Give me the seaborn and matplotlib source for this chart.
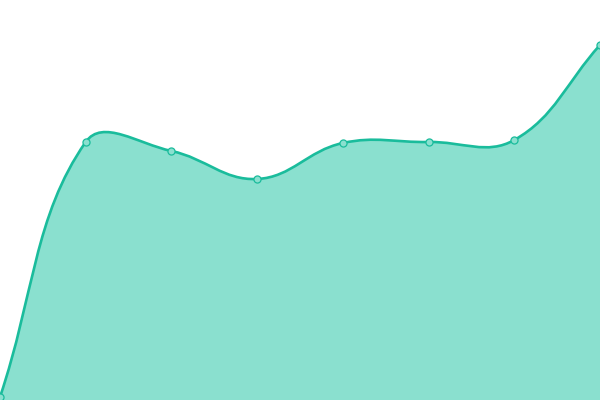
import numpy as np
import matplotlib
matplotlib.use("Agg")
import matplotlib.pyplot as plt
from matplotlib.path import Path
from matplotlib.patches import PathPatch
import seaborn as sns

sns.set_theme(style="white")

# values (y axis runs 0..400, no axes drawn)
steps = [0, 1, 2, 3, 4, 5, 6, 7]
values = [3, 258, 249, 221, 257, 258, 260, 355]

LINE = "#1abc9c"
FILL = "#8ae0cf"
TENSION = 0.4

fig = plt.figure(figsize=(6, 4), dpi=100)
ax = fig.add_axes([0, 0, 1, 1])
ax.set_xlim(0, 7)
ax.set_ylim(0, 400)
ax.axis("off")

# spline control points, segment lengths measured in pixels
sx = 600 / 7
px = np.array(steps, float) * sx
py = np.array(values, float)
n = len(px)


def control_points(i):
    prev_i = max(i - 1, 0)
    next_i = min(i + 1, n - 1)
    x, y = px[i], py[i]
    vx, vy = px[next_i] - px[prev_i], py[next_i] - py[prev_i]
    l0 = np.hypot(x - px[prev_i], y - py[prev_i])
    l1 = np.hypot(px[next_i] - x, py[next_i] - y)
    r = l1 / (l0 + l1)
    in_cp = (x - vx * TENSION * (1 - r), y - vy * TENSION * (1 - r))
    out_cp = (x + vx * TENSION * r, y + vy * TENSION * r)
    return in_cp, out_cp


verts = [(px[0], py[0])]
cp = control_points(0)[1]
for i in range(1, n):
    in_cp, out_cp = control_points(i)
    verts += [cp, in_cp, (px[i], py[i])]
    cp = out_cp
verts = [(a / sx, b) for a, b in verts]
codes = [Path.MOVETO] + [Path.CURVE4] * (len(verts) - 1)

area_verts = verts + [(steps[-1], 0), (steps[0], 0), verts[0]]
area_codes = codes + [Path.LINETO, Path.LINETO, Path.CLOSEPOLY]
ax.add_patch(PathPatch(Path(area_verts, area_codes), facecolor=FILL,
                       edgecolor="none", zorder=1))
ax.add_patch(PathPatch(Path(verts, codes), facecolor="none", edgecolor=LINE,
                       linewidth=1.9, capstyle="round", zorder=2))

sns.scatterplot(x=steps, y=values, ax=ax, s=26, color=FILL, edgecolor=LINE,
                linewidth=0.9, zorder=3)

fig.savefig("out.png", dpi=100)
